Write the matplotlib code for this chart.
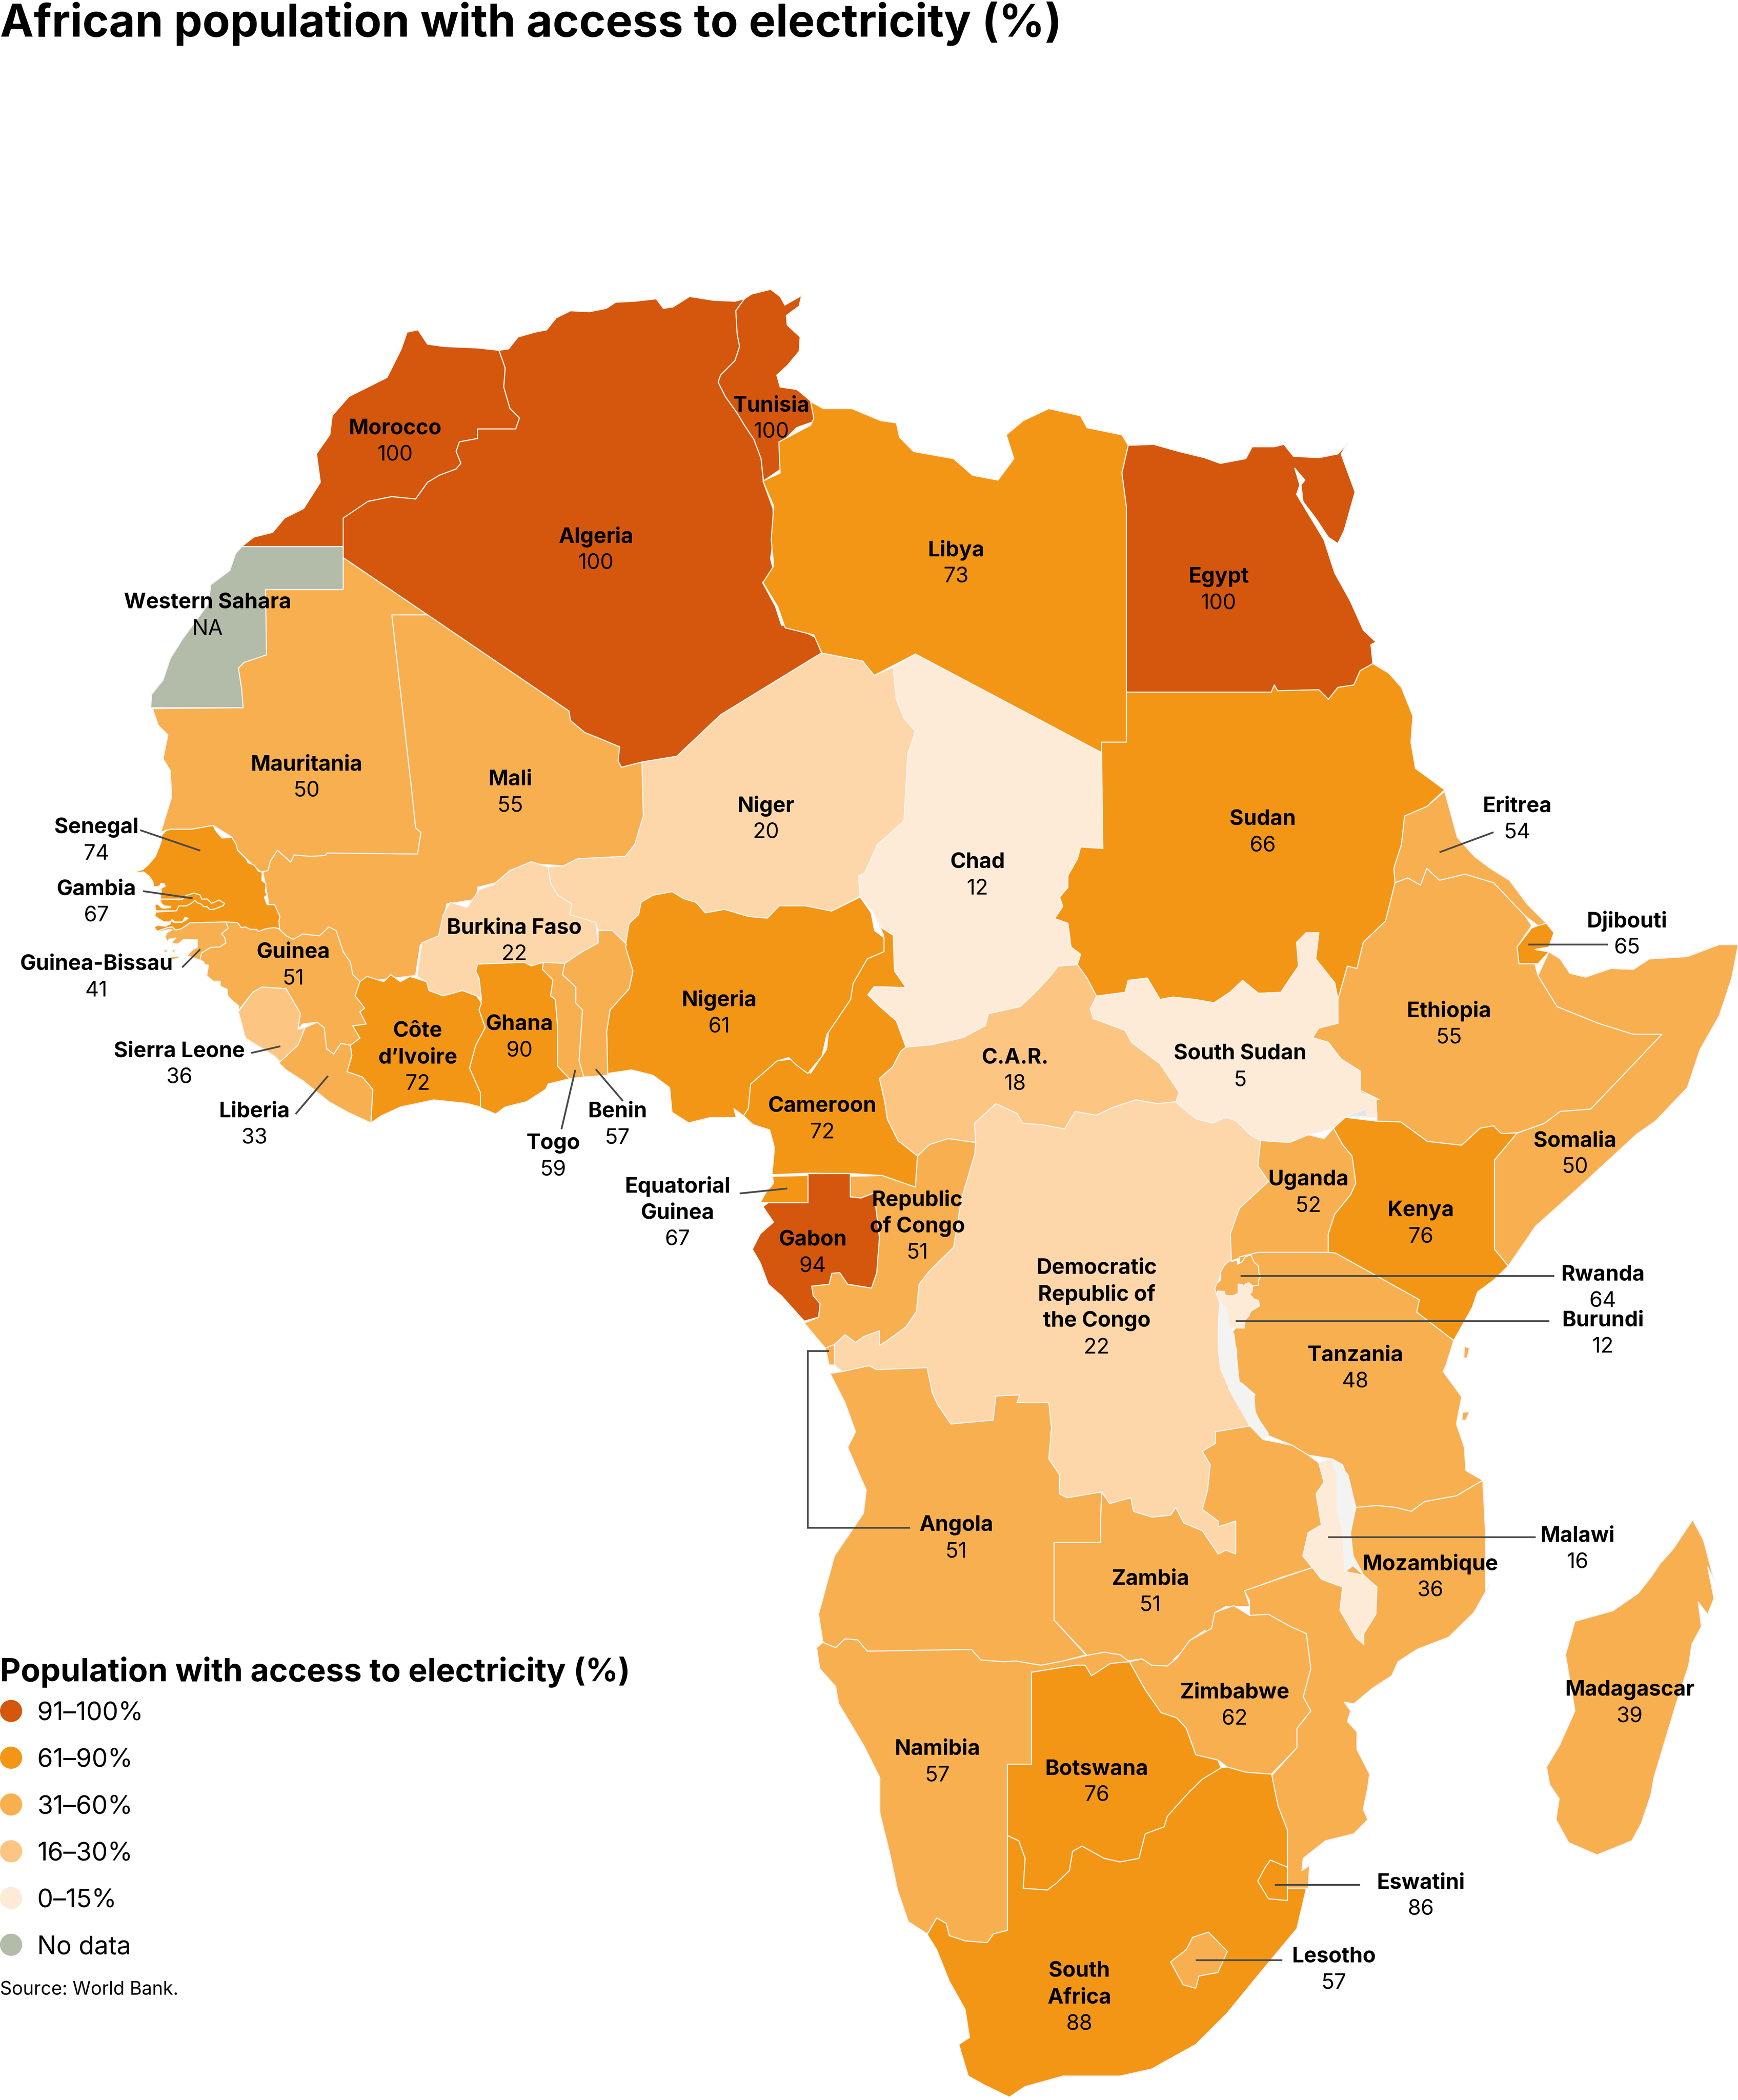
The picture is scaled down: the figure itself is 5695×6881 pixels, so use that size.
import matplotlib
matplotlib.use("Agg")
import matplotlib.pyplot as plt

W, H = 6282, 7590
UNIT = W / 1298.0      # label positions below are on a 1298 wide grid
DPI = 272              # full 300 trips the pixel limit of the image reader

CROPS = {
    "A": (400, 900, 1.722, 1.722),
    "B": (2700, 1400, 2.296, 1.722),
    "C": (500, 3000, 1.722, 1.2755),
    "D": (2700, 3800, 1.913, 1.403),
    "E": (2700, 5600, 2.284, 1.269),
    "S": (450, 3000, 0.4464, 0.4464),
    "W": (4300, 4400, 0.3333, 0.3333),
    "R": (0, 0, UNIT, UNIT),
}

def on(crop, pts):
    x0, y0, sx, sy = CROPS[crop]
    return [(x0 + p[0] * sx, y0 + p[1] * sy) for p in pts]

# colours
RED = "#D4570D"
ORANGE = "#F39616"
MID = "#F8AF50"
SOFT = "#FDC582"
PALE = "#FDD6A9"
CREAM = "#FDEBD7"
GREY = "#B3BBA9"
WATER = "#F3F3F1"

MOROCCO = on("A", [(275,625),(300,605),(340,595),(365,565),(405,545),(440,490),(432,430),(460,390),(465,350),(500,310),(580,270),(610,210),(622,175),(645,170),(665,200),(700,205),(770,208),(815,213),(828,250),(825,290),(838,335),(858,355),(850,378),(770,378),(770,398),(732,405),(725,425),(735,450),(725,462),(690,475),(665,490),(640,525),(590,520),(540,530),(490,565),(488,625)])
W_SAHARA = on("A", [(275,625),(488,625),(488,715),(325,715),(327,852),(280,868),(268,880),(275,925),(278,963),(84,963),(86,935),(110,905),(125,860),(150,820),(205,745),(210,705),(250,675),(262,640)])
MAURITANIA = on("A", [(488,648),(665,768),(590,768),(632,1140),(640,1215),(651,1225),(644,1270),(455,1268),(450,1273),(420,1275),(385,1272),(378,1287),(350,1262),(335,1285),(330,1305),(315,1308),(290,1285),(265,1260),(255,1235),(215,1210),(170,1218),(125,1218),(105,1225),(128,1150),(125,1095),(110,1070),(120,1020),(100,1000),(88,965),(278,963),(275,925),(268,880),(280,868),(327,852),(325,715),(488,715)])
ALGERIA = on("A", [(815,213),(835,210),(855,185),(890,175),(915,170),(935,145),(965,130),(1005,132),(1040,125),(1060,112),(1100,110),(1145,105),(1160,125),(1180,122),(1215,100),(1265,108),(1310,110),(1330,105),(1312,130),(1315,180),(1320,205),(1310,235),(1280,265),(1275,280),(1290,310),(1315,345),(1330,370),(1350,400),(1365,440),(1370,490),(1390,545),(1392,600),(1385,650),(1392,680),(1368,700),(1395,750),(1408,790),(1440,795),(1478,815),(1492,848),(1280,978),(1188,1065),(1115,1077),(1072,1088),(1065,1075),(1068,1045),(1020,1025),(995,1015),(965,990),(962,970),(665,768),(488,648),(488,565),(540,530),(590,520),(640,525),(665,490),(690,475),(725,462),(735,450),(725,425),(732,405),(770,398),(770,378),(850,378),(858,355),(838,335),(825,290),(828,250)])
TUNISIA = on("A", [(1330,105),(1345,95),(1385,85),(1405,100),(1415,118),(1450,98),(1445,120),(1418,140),(1420,160),(1447,185),(1445,215),(1420,245),(1398,265),(1405,290),(1440,295),(1470,320),(1477,362),(1440,375),(1405,410),(1410,460),(1370,487),(1365,440),(1350,400),(1330,370),(1315,345),(1290,310),(1275,280),(1280,265),(1310,235),(1320,205),(1315,180),(1312,130)])
MALI = on("A", [(590,768),(665,768),(962,970),(965,990),(995,1015),(1020,1025),(1068,1045),(1065,1075),(1072,1088),(1115,1077),(1118,1190),(1100,1250),(1080,1275),(980,1280),(950,1295),(880,1290),(810,1330),(770,1340),(768,1365),(705,1375),(695,1440),(650,1460),(640,1525),(515,1540),(400,1500),(340,1420),(320,1310),(335,1285),(350,1262),(378,1287),(385,1272),(420,1275),(450,1273),(455,1268),(644,1270),(651,1225),(640,1215),(632,1140)])
NIGER = (on("A", [(1115,1077),(1188,1065),(1280,978),(1492,848)])
         + on("B", [(118,558),(182,575),(200,605),(230,588),(235,655),(247,695),(265,722),(253,770),(247,910),(205,960),(185,1020),(175,1025),(178,1068)])
         + on("C", [(1455,230),(1400,215),(1345,215),(1320,250),(1280,245),(1230,225),(1190,235),(1170,205),(1145,195),(1120,175),(1080,185),(1055,205),(1050,240),(1030,265),(1025,325),(995,285),(965,285),(960,262),(940,260),(905,240),(910,210),(880,185),(865,150),(860,105)])
         + on("A", [(950,1295),(980,1280),(1080,1275),(1100,1250),(1118,1190)]))
CHAD = on("B", [(265,560),(558,767),(560,968),(525,965),(520,990),(505,1025),(505,1050),(492,1070),(497,1090),(484,1115),(505,1125),(510,1175),(525,1190),(520,1210),(490,1215),(475,1240),(450,1275),(430,1300),(380,1315),(375,1340),(340,1365),(290,1380),(250,1385),(235,1330),(205,1295),(190,1275),(200,1258),(250,1260),(232,1225),(230,1150),(212,1135),(198,1100),(178,1068),(175,1025),(185,1020),(205,960),(247,910),(253,770),(265,722),(247,695),(235,655),(230,588)])
LIBYA = on("B", [(100,30),(120,45),(165,45),(210,70),(235,75),(240,105),(262,135),(325,150),(355,185),(395,195),(420,150),(408,100),(435,70),(475,45),(525,60),(535,85),(590,100),(600,122),(590,180),(597,250),(597,745),(558,745),(558,767),(265,560),(200,605),(182,575),(118,558),(105,520),(60,505),(48,460),(25,410),(42,375),(38,320),(42,250),(25,197),(52,180),(50,115),(100,80),(105,65)])
EGYPT = on("B", [(600,122),(640,120),(680,135),(720,148),(745,160),(785,150),(795,125),(830,125),(845,120),(860,145),(900,148),(930,140),(945,118),(935,140),(957,220),(940,300),(930,328),(915,315),(895,275),(875,240),(872,205),(878,195),(862,170),(870,205),(865,225),(908,320),(925,390),(950,450),(970,510),(990,535),(982,540),(985,580),(965,595),(955,625),(930,630),(915,655),(900,635),(835,637),(830,625),(825,640),(597,640),(597,250),(590,180)])
SUDAN = on("B", [(597,640),(825,640),(830,625),(835,637),(900,635),(915,655),(930,630),(955,625),(965,595),(985,580),(1010,600),(1030,630),(1048,690),(1045,745),(1052,800),(1098,845),(1070,880),(1035,900),(1030,960),(1018,1010),(1020,1040),(1005,1120),(970,1165),(960,1220),(945,1215),(930,1285),(925,1250),(895,1200),(900,1145),(880,1145),(865,1165),(868,1215),(840,1270),(805,1272),(780,1245),(760,1270),(735,1292),(705,1285),(670,1280),(650,1285),(630,1240),(600,1245),(595,1270),(550,1278),(535,1240),(520,1212),(525,1190),(510,1175),(505,1125),(484,1115),(497,1090),(492,1070),(505,1050),(505,1025),(520,990),(525,965),(560,968),(558,767),(558,745),(597,745)])
ERITREA = on("B", [(1098,848),(1118,945),(1145,985),(1170,1010),(1200,1035),(1228,1085),(1258,1125),(1245,1130),(1225,1110),(1175,1040),(1130,1022),(1090,1035),(1070,1010),(1060,1045),(1040,1030),(1020,1040),(1018,1010),(1030,960),(1035,900),(1070,880)])
ETHIOPIA = (on("B", [(1020,1040),(1040,1030),(1060,1045),(1070,1010),(1090,1035),(1130,1022),(1175,1040),(1225,1110),(1235,1130),(1212,1175),(1215,1210),(1240,1210),(1245,1235),(1275,1300),(1340,1335),(1395,1358),(1440,1358),(1328,1515),(1280,1520),(1255,1545),(1213,1565)])
            + on("D", [(1425,212),(1410,192),(1385,198),(1350,242),(1285,232),(1235,182),(1190,180),(1188,125),(1165,122),(1150,95)])
            + on("B", [(995,1495),(965,1480),(965,1435),(935,1410),(915,1375),(890,1365),(900,1345),(930,1335),(930,1285),(945,1215),(960,1220),(970,1165),(1005,1120)]))
DJIBOUTI = on("B", [(1245,1130),(1258,1125),(1270,1145),(1262,1175),(1240,1180),(1262,1185),(1245,1210),(1215,1210),(1212,1175),(1235,1135)])
SOMALIA = (on("B", [(1245,1235),(1262,1185),(1280,1200),(1295,1230),(1320,1238),(1360,1220),(1395,1222),(1420,1200),(1480,1195),(1530,1170),(1560,1170),(1550,1240),(1530,1320),(1500,1390),(1480,1470),(1430,1540),(1400,1568)])
           + on("D", [(1568,355),(1535,395),(1490,450),(1438,553),(1412,510),(1412,280),(1455,210)])
           + on("B", [(1213,1565),(1255,1545),(1280,1520),(1328,1515),(1440,1358),(1395,1358),(1340,1335),(1275,1300)]))
KENYA = on("D", [(1108,198),(1130,170),(1190,180),(1235,182),(1285,232),(1350,242),(1385,198),(1410,192),(1425,212),(1455,210),(1412,280),(1412,510),(1438,553),(1410,590),(1380,620),(1370,660),(1335,745),(1265,672),(1270,640),(1112,520),(1098,518),(1098,470),(1110,420),(1140,370),(1150,340),(1143,270),(1125,240)])
UGANDA = on("D", [(970,230),(1025,235),(1060,215),(1090,225),(1108,198),(1125,240),(1143,270),(1150,340),(1140,370),(1110,420),(1098,470),(1098,518),(965,518),(935,530),(915,540),(913,470),(930,405),(985,335),(965,295)])
S_SUDAN = (on("B", [(550,1278),(595,1270),(600,1245),(630,1240),(650,1285),(670,1280),(705,1285),(735,1292),(760,1270),(780,1245),(805,1272),(840,1270),(868,1215),(865,1165),(880,1145),(900,1145),(895,1200),(925,1250),(930,1285),(930,1335),(900,1345),(890,1365),(915,1375),(935,1410),(965,1435),(965,1480),(995,1495)])
           + on("D", [(1188,125),(1190,170),(1130,170),(1108,198),(1060,215),(1025,235),(970,230),(950,215),(925,180),(905,170),(880,185),(850,175),(830,155),(810,130),(810,100),(775,75),(760,40),(725,0)])
           + on("B", [(650,1420),(630,1400),(605,1375),(595,1350),(545,1325),(540,1305)]))
ILEMI = on("D", [(1130,168),(1170,148),(1172,168)])
CAR = (on("B", [(250,1385),(290,1380),(340,1365),(375,1340),(380,1315),(430,1300),(450,1275),(475,1240),(490,1215),(520,1212),(535,1240),(550,1278),(540,1305),(545,1325),(595,1350),(605,1375),(630,1400),(650,1420),(680,1480)])
       + on("D", [(810,130),(775,135),(735,125),(690,145),(660,165),(620,155),(600,200),(560,190),(520,185),(510,160),(470,135),(430,185),(432,235),(380,225),(345,240),(322,270),(285,230),(265,175),(260,130),(250,70),(275,40),(290,0)]))
DRC = on("D", [(430,185),(470,135),(510,160),(520,185),(560,190),(600,200),(620,155),(660,165),(690,145),(735,125),(775,135),(810,130),(830,155),(850,175),(880,185),(905,170),(925,180),(950,215),(970,230),(965,295),(985,335),(930,405),(913,470),(915,540),(895,570),(885,615),(893,650),(893,780),(910,870),(950,965),(885,980),(885,1010),(860,1030),(875,1065),(870,1130),(860,1180),(890,1210),(890,1225),(923,1210),(923,1295),(905,1285),(890,1295),(860,1235),(825,1215),(810,1175),(800,1195),(765,1200),(730,1185),(725,1150),(685,1165),(670,1135),(605,1150),(590,1140),(590,1090),(570,1050),(575,970),(570,905),(510,905),(515,885),(470,888),(465,950),(385,960),(360,910),(350,880),(340,815),(245,820),(230,810),(180,825),(165,808),(160,780),(165,755),(185,730),(205,750),(220,735),(250,720),(250,758),(265,745),(300,710),(320,670),(325,600),(345,565),(390,505),(405,380),(432,240)])
CONGO = on("D", [(195,322),(255,320),(318,350),(322,270),(345,240),(380,225),(432,235),(430,265),(405,380),(390,505),(345,565),(325,600),(320,670),(300,710),(265,745),(250,758),(250,720),(220,735),(205,750),(185,730),(165,755),(148,765),(108,700),(135,685),(138,650),(125,630),(122,605),(155,600),(160,572),(175,570),(190,600),(235,610),(245,570),(250,480),(240,365),(215,378),(195,375)])
GABON = on("D", [(115,315),(195,315),(195,375),(215,378),(240,365),(250,480),(245,570),(235,610),(190,600),(175,570),(160,572),(155,600),(122,605),(125,630),(138,650),(135,685),(108,695),(65,630),(40,600),(25,545),(10,510),(25,470),(50,440),(30,400),(45,385),(115,388)])
EQ_GUINEA = on("D", [(48,322),(115,320),(115,390),(25,390),(35,365),(50,340)])
CAMEROON = (on("D", [(48,318),(115,314),(195,315),(255,320),(318,350),(322,270),(285,230),(265,175),(260,130),(250,70),(275,40),(290,0)])
            + on("B", [(250,1385),(235,1330),(205,1295),(190,1275),(200,1258),(250,1260),(232,1225),(230,1150),(212,1135),(198,1100),(215,1150),(215,1180),(180,1200),(155,1290),(130,1330),(125,1390),(100,1440),(70,1410),(40,1415)])
            + on("C", [(1340,655),(1285,720),(1280,790),(1270,810),(1290,835),(1325,850),(1335,900),(1330,975)]))
NIGERIA = on("C", [(1030,265),(1050,240),(1055,205),(1080,185),(1120,175),(1145,195),(1170,205),(1190,235),(1230,225),(1280,245),(1320,250),(1345,215),(1400,215),(1455,230),(1515,190),(1538,235),(1545,285),(1565,305),(1565,345),(1530,365),(1500,435),(1495,480),(1470,530),(1445,580),(1435,640),(1405,690),(1380,665),(1365,645),(1340,655),(1285,720),(1280,790),(1270,810),(1250,790),(1255,815),(1200,815),(1155,830),(1120,800),(1115,730),(1080,695),(1035,680),(985,690),(983,570),(990,510),(1030,450),(1038,400),(1022,330)])
BENIN = on("C", [(965,285),(995,285),(1025,325),(1022,330),(1038,400),(1030,450),(990,510),(983,570),(985,695),(935,700),(925,655),(932,510),(918,490),(918,445),(890,410),(895,378),(925,350),(965,320)])
TOGO = on("C", [(850,375),(895,378),(890,410),(918,445),(918,490),(932,510),(925,655),(935,700),(905,705),(880,670),(880,560),(875,480),(865,470),(870,425),(848,395)])
GHANA = on("C", [(712,380),(810,375),(825,385),(850,375),(848,395),(870,425),(865,470),(875,480),(880,560),(880,670),(905,705),(860,720),(855,735),(815,770),(770,785),(750,805),(715,785),(718,745),(695,675),(708,610),(728,560),(715,510),(720,480),(715,420),(708,400)])
COTE_DIVOIRE = on("C", [(455,440),(480,415),(515,430),(530,410),(550,430),(570,415),(605,430),(610,455),(640,470),(680,455),(710,470),(720,490),(715,510),(728,560),(708,610),(695,675),(718,745),(718,785),(690,775),(620,765),(585,775),(550,785),(510,810),(488,830),(492,735),(470,700),(438,685),(448,640),(445,610),(465,590),(450,555),(478,550),(465,515),(475,505),(455,470)])
BURKINA = on("C", [(860,105),(865,150),(880,185),(910,210),(905,240),(960,262),(965,320),(925,350),(895,378),(850,375),(825,385),(810,375),(712,380),(708,400),(715,420),(720,480),(710,470),(680,455),(640,470),(610,455),(605,430),(585,415),(595,320),(630,300),(640,240),(655,205),(690,220),(715,170),(745,155),(780,115),(825,90)])
GUINEA = (on("C", [(295,280),(310,300),(325,310),(345,295),(380,300),(400,275),(415,285),(430,345),(445,375),(450,410),(465,430),(455,470),(475,505),(465,515),(478,550),(450,555),(465,590),(445,610),(425,605),(410,635),(395,620),(390,560),(375,545),(345,550),(335,565),(340,520),(310,450),(260,445),(240,460)])
          + on("S", [(920,1465),(925,1425),(870,1380),(835,1340),(830,1290),(775,1265),(775,1225),(720,1225),(665,1180),(680,1095),(650,1090),(640,1065),(610,1055),(625,995),(700,950),(770,948),(820,915),(810,870),(785,840),(840,795),(820,745),(915,750),(945,790),(980,785),(1020,805),(1070,805),(1085,822),(1145,800),(1210,790),(1255,800)]))
SIERRA_LEONE = on("C", [(240,460),(260,445),(310,450),(340,520),(335,565),(350,560),(335,610),(300,660),(285,640),(225,590),(210,515)])
LIBERIA = on("C", [(295,660),(335,610),(350,560),(375,545),(390,560),(395,620),(410,635),(425,605),(445,610),(448,640),(438,685),(470,700),(492,735),(488,830),(440,800),(400,770),(345,710),(310,680)])
SENEGAL = (on("A", [(105,1225),(125,1218),(170,1218),(215,1210)])
           + on("S", [(735,0),(775,50),(790,65),(870,62),(905,120),(915,165),(985,235),(1000,265),(1050,285),(1085,335),(1115,342),(1112,410),(1145,435),(1140,500),(1155,525),(1132,545),(1155,605),(1215,605),(1235,650),(1258,700),(1250,740),(1255,800),(1210,790),(1145,800),(1085,822),(1070,805),(1020,805),(980,785),(945,790),(915,750),(820,745),(530,752),(460,800),(415,810),(385,785),(350,790),(265,820),(240,790),(265,772),(330,780),(370,760),(380,730),(400,750),(460,750),(495,730),(515,715),(490,708),(470,745),(405,745),(385,725),(370,745),(320,745),(270,715),(245,695),(255,665),(420,655),(440,615),(500,615),(540,595),(570,570),(590,590),(620,600),(640,620),(670,622),(690,645),(730,640),(800,612),(810,595),(765,568),(705,595),(670,560),(625,560),(610,525),(560,512),(500,530),(465,560),(290,560),(300,485),(260,495),(330,455),(320,435),(295,432),(285,455),(235,460),(230,420),(200,375),(155,340),(105,345),(100,335),(150,320),(190,285),(250,215),(280,140),(298,90),(300,45),(340,0)]))
GAMBIA = on("S", [(290,560),(465,565),(500,530),(560,512),(610,525),(625,560),(670,560),(705,595),(765,568),(810,595),(800,612),(730,640),(690,645),(670,622),(640,620),(620,600),(590,590),(570,570),(540,595),(500,615),(440,615),(420,655),(255,655),(245,610),(265,597),(300,630),(320,635),(350,630),(370,630),(375,620),(320,615),(295,590)])
GUINEA_BISSAU = on("S", [(265,820),(350,790),(385,785),(415,810),(460,800),(530,752),(820,745),(840,795),(785,840),(810,870),(820,915),(770,948),(700,950),(625,995),(610,1055),(560,1035),(505,1020),(550,970),(590,950),(590,890),(480,885),(430,925),(380,915),(415,875),(360,885),(345,905),(330,865),(345,830),(385,810),(360,805),(280,825)])
BIJAGOS_1 = on("S", [(318,968),(348,975),(345,990),(320,988)])
BIJAGOS_2 = on("S", [(385,972),(412,970),(405,990),(388,992)])
BIJAGOS_3 = on("S", [(360,1030),(445,1020),(440,1035),(390,1050)])
TANZANIA = on("D", [(965,518),(1098,518),(1112,520),(1270,640),(1265,672),(1335,745),(1320,810),(1315,825),(1350,890),(1340,960),(1355,1020),(1358,1080),(1390,1105),(1340,1145),(1280,1160),(1255,1185),(1225,1175),(1190,1170),(1150,1175),(1135,1090),(1105,1050),(1060,1040),(1030,1015),(985,990),(980,985),(950,900),(960,885),(935,855),(925,850),(925,770),(915,725),(935,695),(930,650),(930,600),(930,530)])
TANGANYIKA = on("D", [(893,650),(905,660),(908,700),(920,730),(925,790),(930,855),(958,890),(960,935),(985,985),(975,1000),(950,975),(945,950),(915,880),(895,820),(890,770),(890,700)])
LAKE_MALAWI = on("D", [(1105,1050),(1125,1065),(1135,1100),(1150,1175),(1140,1240),(1145,1300),(1165,1350),(1145,1325),(1130,1340),(1125,1240),(1115,1180),(1115,1100)])
RWANDA = on("W", [(435,465),(455,480),(500,465),(520,480),(515,510),(570,480),(600,430),(660,405),(700,490),(745,530),(750,610),(770,640),(745,680),(745,735),(680,745),(640,710),(600,725),(590,765),(570,730),(525,725),(525,825),(470,850),(385,850),(375,805),(300,800),(295,850),(270,775),(295,715),(335,680),(335,590),(375,520)])
BURUNDI = on("W", [(300,800),(375,805),(385,850),(470,850),(525,825),(525,725),(570,730),(590,765),(600,725),(640,710),(680,745),(675,810),(645,830),(700,890),(745,900),(755,960),(660,1020),(640,1070),(600,1110),(590,1200),(430,1200),(395,1000),(345,950),(330,900),(300,870)])
ANGOLA = (on("D", [(157,830),(180,825),(230,810),(245,820),(340,815),(350,880),(360,910),(385,960),(465,950),(470,888),(515,885),(510,905),(570,905),(575,970),(570,1050),(590,1090),(590,1140),(605,1150),(670,1135),(668,1200),(668,1265),(580,1265),(580,1465),(640,1555)])
          + on("E", [(500,318),(465,330),(425,318),(405,320),(370,315),(355,285),(190,290),(175,258),(155,255),(140,280),(120,265)])
          + on("D", [(135,1450),(165,1300),(220,1190),(225,1130),(190,1020),(205,980),(185,905)]))
CABINDA = on("D", [(148,765),(165,755),(165,808),(155,808)])
ZAMBIA = (on("D", [(885,980),(950,965),(975,1000),(1030,1015),(1060,1040),(1080,1060),(1090,1110),(1075,1140),(1085,1220),(1060,1240),(1050,1300),(1068,1330),(1010,1355),(940,1390),(950,1430),(905,1430),(885,1445),(880,1490),(835,1530),(805,1568)])
          + on("E", [(725,230),(700,260),(680,310),(665,332),(640,330),(625,312),(600,318),(590,300),(565,293),(538,302)])
          + on("D", [(580,1465),(580,1265),(668,1265),(668,1200),(670,1135),(685,1165),(725,1150),(730,1185),(765,1200),(800,1195),(810,1175),(825,1215),(860,1235),(890,1295),(905,1285),(923,1295),(923,1210),(890,1225),(890,1210),(860,1180),(870,1130),(875,1065),(860,1030),(885,1010)]))
MALAWI = on("D", [(1080,1060),(1105,1050),(1115,1100),(1115,1180),(1125,1240),(1130,1340),(1165,1350),(1190,1380),(1188,1450),(1165,1500),(1165,1528),(1150,1510),(1120,1440),(1125,1380),(1085,1360),(1068,1330),(1050,1300),(1060,1240),(1085,1220),(1075,1140),(1090,1110)])
MOZAMBIQUE = (on("D", [(1390,1105),(1395,1240),(1395,1390)])
              + on("E", [(1175,100),(1150,180),(1110,250),(1060,285),(1030,320),(1020,360),(990,395),(960,440),(945,435),(955,460),(950,490),(965,520),(965,570),(985,640),(982,680),(975,740),(982,770),(960,810),(915,830),(880,880),(878,915),(890,900),(888,965),(855,965),(855,800),(840,730),(830,645),(870,565),(870,510),(892,460),(880,420),(892,340),(885,240),(860,220),(825,185),(795,188),(795,145),(787,118),(840,85)])
              + on("D", [(1068,1330),(1125,1300),(1150,1175),(1190,1170),(1225,1175),(1255,1185),(1280,1160),(1340,1145)]))
ZIMBABWE = on("E", [(795,188),(825,185),(860,220),(885,240),(892,340),(880,420),(892,460),(870,510),(870,565),(830,640),(790,635),(760,620),(745,600),(710,585),(695,510),(680,480),(655,465),(630,400),(605,320),(625,312),(640,330),(665,332),(680,310),(700,260),(735,225),(740,180),(770,160)])
BOTSWANA = on("E", [(450,350),(520,330),(535,330),(545,360),(575,325),(605,320),(630,400),(655,465),(680,480),(695,510),(710,585),(745,600),(750,622),(720,655),(700,690),(685,720),(665,760),(660,790),(630,810),(620,880),(590,890),(565,880),(530,845),(515,860),(510,915),(490,950),(475,970),(437,965),(440,880),(430,830),(412,815),(412,612),(450,612)])
NAMIBIA = on("E", [(110,280),(120,265),(140,280),(155,255),(175,258),(190,290),(355,285),(370,315),(405,320),(425,318),(465,330),(500,318),(538,302),(565,293),(590,300),(605,320),(575,325),(545,360),(535,330),(520,330),(450,350),(450,612),(412,612),(412,1085),(390,1095),(380,1120),(345,1115),(320,1100),(315,1065),(300,1050),(285,1095),(255,1060),(238,970),(225,860),(210,750),(210,650),(185,560),(145,440),(140,390),(115,340)])
SOUTH_AFRICA = on("E", [(285,1097),(300,1050),(315,1065),(320,1100),(345,1115),(380,1120),(390,1095),(412,1085),(412,815),(430,830),(440,880),(437,965),(475,970),(490,950),(510,915),(515,860),(530,845),(565,880),(590,890),(620,880),(630,810),(660,790),(665,760),(685,720),(700,690),(720,655),(750,622),(760,620),(790,635),(830,640),(840,730),(855,800),(855,965),(885,965),(870,1080),(810,1210),(760,1320),(710,1410),(640,1480),(590,1500),(500,1500),(440,1530),(415,1560),(375,1525),(350,1500),(335,1410),(352,1390),(345,1310),(320,1230),(300,1140)])
LESOTHO = on("E", [(730,1090),(760,1145),(745,1205),(715,1215),(710,1250),(690,1240),(670,1175),(695,1140),(705,1105)])
ESWATINI = on("E", [(828,885),(855,905),(855,1000),(825,995),(808,945),(820,905)])
MADAGASCAR = (on("R", [(1264,1135),(1272,1150),(1280,1180)])
              + on("E", [(1520,50),(1530,140),(1520,185),(1505,150),(1510,220),(1495,270),(1490,330),(1470,440),(1450,560),(1435,650),(1430,700),(1415,780),(1400,830),(1345,870),(1300,835),(1280,770),(1285,710),(1270,670),(1265,620),(1285,560),(1310,460),(1295,300),(1310,205),(1370,175),(1410,125),(1430,80),(1445,40),(1465,0)]))
PEMBA = on("D", [(1355,760),(1365,765),(1360,790),(1354,790)])
ZANZIBAR = on("D", [(1352,930),(1365,928),(1358,950),(1350,950)])

# drawn in this order, later ones sit on top of earlier ones
SHAPES = [
    (MALI, MID), (MAURITANIA, MID), (MOROCCO, RED), (W_SAHARA, GREY), (ALGERIA, RED), (TUNISIA, RED),
    (LIBYA, ORANGE), (EGYPT, RED), (NIGER, PALE), (CHAD, CREAM), (SUDAN, ORANGE), (ERITREA, MID),
    (ETHIOPIA, MID), (SOMALIA, MID), (DJIBOUTI, ORANGE), (S_SUDAN, CREAM), (ILEMI, "#E4E8E2"),
    (CAR, SOFT), (DRC, PALE), (CAMEROON, ORANGE), (NIGERIA, ORANGE), (CONGO, MID), (GABON, RED),
    (EQ_GUINEA, ORANGE), (BENIN, MID), (TOGO, MID), (GHANA, ORANGE), (COTE_DIVOIRE, ORANGE),
    (BURKINA, PALE), (GUINEA, MID), (SIERRA_LEONE, SOFT), (LIBERIA, MID), (SENEGAL, ORANGE),
    (GAMBIA, ORANGE), (GUINEA_BISSAU, MID), (BIJAGOS_1, MID), (BIJAGOS_2, MID), (BIJAGOS_3, MID),
    (UGANDA, MID), (KENYA, ORANGE), (TANZANIA, MID),
    (RWANDA, MID), (BURUNDI, CREAM), (TANGANYIKA, WATER), (ANGOLA, MID), (CABINDA, MID), (ZAMBIA, MID),
    (MOZAMBIQUE, MID), (MALAWI, CREAM), (LAKE_MALAWI, WATER), (ZIMBABWE, MID), (NAMIBIA, MID),
    (SOUTH_AFRICA, ORANGE), (BOTSWANA, ORANGE), (LESOTHO, MID), (ESWATINI, ORANGE), (MADAGASCAR, MID),
    (PEMBA, MID), (ZANZIBAR, MID),
]

# labels
NAMES = ["Morocco", "Algeria", "Tunisia", "Western Sahara", "Mauritania", "Mali", "Libya", "Egypt", "Niger",
         "Chad", "Sudan", "Eritrea", "Senegal", "Gambia", "Guinea-Bissau", "Guinea", "Burkina Faso",
         "Sierra Leone", "Liberia", "Côte\nd’Ivoire", "Ghana", "Togo", "Benin", "Nigeria", "Cameroon", "C.A.R.",
         "South Sudan", "Ethiopia", "Djibouti", "Somalia", "Equatorial\nGuinea", "Gabon", "Republic\nof Congo",
         "Democratic\nRepublic of\nthe Congo", "Uganda", "Kenya", "Rwanda", "Burundi", "Tanzania", "Angola",
         "Zambia", "Malawi", "Mozambique", "Zimbabwe", "Namibia", "Botswana", "Madagascar", "Eswatini",
         "Lesotho", "South\nAfrica"]
VALUES = ["100", "100", "100", "NA", "50", "55", "73", "100", "20",
          "12", "66", "54", "74", "67", "41", "51", "22",
          "36", "33", "72", "90", "59", "57", "61", "72", "18",
          "5", "55", "65", "50", "67", "94", "51",
          "22", "52", "76", "64", "12", "48", "51",
          "51", "16", "36", "62", "57", "76", "39", "86",
          "57", "88"]
LABEL_X = [295, 445, 576, 155, 229, 381, 714, 910, 572, 730, 943, 1133, 72, 72, 72, 219, 384, 134, 190, 312, 388,
           413, 461, 537, 614, 758, 926, 1082, 1215, 1176, 506, 607, 685, 819, 977, 1061, 1197, 1197, 1012, 714,
           859, 1178, 1068, 922, 700, 819, 1217, 1061, 996, 806]
LABEL_Y = [320, 401, 303, 450, 571, 582, 411, 431, 602, 644, 612, 602, 618, 664, 720, 711, 693, 785, 830, 770, 765,
           854, 830, 747, 826, 790, 787, 755, 688, 852, 886, 926, 896, 947, 881, 904, 952, 986, 1012, 1139,
           1179, 1147, 1168, 1264, 1306, 1321, 1262, 1406, 1461, 1472]

LEADERS = [
    on("A", [(62,1220),(188,1263)]), on("A", [(68,1348),(172,1363)]), on("A", [(150,1508),(188,1470)]),
    on("C", [(237,632),(298,613)]), on("C", [(330,805),(398,697)]), on("C", [(888,848),(917,680)]),
    on("C", [(1017,768),(960,678)]), on("C", [(1262,1030),(1362,1016)]), on("B", [(1175,934),(1090,976)]),
    on("B", [(1355,1170),(1230,1170)]), on("D", [(1525,579),(932,579)]), on("D", [(1516,695),(923,695)]),
    on("D", [(1490,1252),(1098,1252)]), on("D", [(155,772),(115,772),(115,1227),(308,1227)]),
    on("E", [(970,955),(835,955)]), on("E", [(847,1170),(710,1170)]),
]

LEGEND_LABELS = ["91–100%", "61–90%", "31–60%", "16–30%", "0–15%", "No data"]
LEGEND_COLORS = [RED, ORANGE, MID, SOFT, CREAM, GREY]
LEGEND_Y = [6184, 6353, 6522, 6691, 6860, 7029]

BOLD = dict(family="Inter", fontweight="bold", color="black")
LIGHT = dict(family="Inter", fontweight="normal", color="black")

fig = plt.figure(figsize=(W / 300, H / 300), dpi=DPI)
ax = fig.add_axes([0, 0, 1, 1])
ax.set_xlim(0, W)
ax.set_ylim(H, 0)
ax.axis("off")

for outline, colour in SHAPES:
    xs = [p[0] for p in outline]
    ys = [p[1] for p in outline]
    ax.fill(xs, ys, facecolor=colour, edgecolor=WATER, linewidth=0.95, joinstyle="round", zorder=2)

for line in LEADERS:
    ax.plot([p[0] for p in line], [p[1] for p in line], color="#4A4A48", linewidth=1.55, zorder=3,
            solid_capstyle="butt", solid_joinstyle="miter")

STEP = 19.8 * UNIT
for name, value, x, y in zip(NAMES, VALUES, LABEL_X, LABEL_Y):
    lines = name.split("\n")
    for i, part in enumerate(lines):
        ax.text(x * UNIT, y * UNIT + i * STEP, part, ha="center", va="center", fontsize=18.5, zorder=4, **BOLD)
    ax.text(x * UNIT, y * UNIT + len(lines) * STEP, value, ha="center", va="center", fontsize=18.5, zorder=4, **LIGHT)

ax.text(0, 85, "African population with access to electricity (%)", ha="left", va="center", fontsize=39.2, **BOLD)
ax.text(0, 6043, "Population with access to electricity (%)", ha="left", va="center", fontsize=27.8, **BOLD)

ax.scatter([40] * len(LEGEND_Y), LEGEND_Y, s=369, c=LEGEND_COLORS, linewidths=0, zorder=3)
for label, y in zip(LEGEND_LABELS, LEGEND_Y):
    ax.text(135, y + 8, label, ha="left", va="center", fontsize=22, **LIGHT)
ax.text(0, 7192, "Source: World Bank.", ha="left", va="center", fontsize=16, **LIGHT)

fig.savefig("out.png", dpi=DPI)
